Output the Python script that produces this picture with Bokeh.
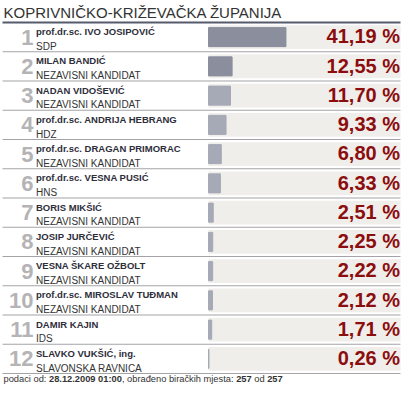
from bokeh.plotting import figure
from bokeh.models import Range1d, ColumnDataSource
from bokeh.core.properties import value
from bokeh.embed import file_html
from bokeh.resources import INLINE

# ---------------- data ----------------
title = "KOPRIVNIČKO-KRIŽEVAČKA ŽUPANIJA"
ranks = [1, 2, 3, 4, 5, 6, 7, 8, 9, 10, 11, 12]
names = [
    "prof.dr.sc. IVO JOSIPOVIĆ",
    "MILAN BANDIĆ",
    "NADAN VIDOŠEVIĆ",
    "prof.dr.sc. ANDRIJA HEBRANG",
    "prof.dr.sc. DRAGAN PRIMORAC",
    "prof.dr.sc. VESNA PUSIĆ",
    "BORIS MIKŠIĆ",
    "JOSIP JURČEVIĆ",
    "VESNA ŠKARE OŽBOLT",
    "prof.dr.sc. MIROSLAV TUĐMAN",
    "DAMIR KAJIN",
    "SLAVKO VUKŠIĆ, ing.",
]
parties = [
    "SDP",
    "NEZAVISNI KANDIDAT",
    "NEZAVISNI KANDIDAT",
    "HDZ",
    "NEZAVISNI KANDIDAT",
    "HNS",
    "NEZAVISNI KANDIDAT",
    "NEZAVISNI KANDIDAT",
    "NEZAVISNI KANDIDAT",
    "NEZAVISNI KANDIDAT",
    "IDS",
    "SLAVONSKA RAVNICA",
]
percents = [41.19, 12.55, 11.70, 9.33, 6.80, 6.33, 2.51, 2.25, 2.22, 2.12, 1.71, 0.26]
footer_parts = [
    ("podaci od: ", False),
    ("28.12.2009 01:00", True),
    (", obrađeno biračkih mjesta: ", False),
    ("257", True),
    (" od ", False),
    ("257", True),
]

# ---------------- layout ----------------
W, H = 402, 387
PX = 1.88            # pixels per percent unit
BAR0 = 208           # screen x of zero
ROW = 29.25          # pixels per row
TOP = 22             # screen y of header line

def sx(px):          # screen x -> data x
    return (px - BAR0) / PX

def sy(py):          # screen y -> data y (rows)
    return (py - TOP) / ROW + 0.5

FONT = "Liberation Sans"

p = figure(width=W, height=H, output_backend="svg", toolbar_location=None,
           x_range=Range1d(sx(0), sx(W)),
           y_range=Range1d(sy(H), sy(0)),
           min_border=0, outline_line_color=None)
p.xaxis.visible = False
p.yaxis.visible = False
p.grid.visible = False
p.background_fill_color = "white"
p.border_fill_color = "white"

bar_colors = ["#8a8e9d" if i < 2 else "#a6a9b6" for i in range(len(ranks))]
src = ColumnDataSource(dict(
    rank=ranks,
    rank_txt=[str(r) for r in ranks],
    name=names,
    party=parties,
    pct=percents,
    pct_txt=[f"{v:.2f}".replace(".", ",") + " %" for v in percents],
    color=bar_colors,
    bg_right=[sx(400)] * len(ranks),
))

# row backgrounds
p.hbar(y="rank", left=0, right="bg_right", height=0.81, source=src,
       fill_color="#f0eeeb", line_color=None)
# bars
p.hbar(y="rank", left=0, right="pct", height=0.65, source=src,
       fill_color="color", line_color="color", line_width=1)

# separators
sep_y = [r + 0.5 for r in ranks]
p.segment(x0=sx(2), x1=sx(400), y0=sep_y, y1=sep_y, line_color="#a4a4a8", line_width=1.2)
p.segment(x0=[sx(2)], x1=[sx(400)], y0=[0.5], y1=[0.5], line_color="#555a6c", line_width=2)

# rank digits
p.text(x=sx(33), y="rank", text="rank_txt", source=src, y_offset=0,
       text_align="right", text_baseline="alphabetic",
       text_font=value(FONT), text_font_style="bold", text_font_size="22px",
       text_color="#b4b4b6")
# names
p.text(x=sx(35.5), y="rank", text="name", source=src, y_offset=-5.5,
       text_align="left", text_baseline="alphabetic",
       text_font=value(FONT), text_font_style="bold", text_font_size="9.5px",
       text_color="#2e2e3a")
# parties
p.text(x=sx(35.5), y="rank", text="party", source=src, y_offset=9.2,
       text_align="left", text_baseline="alphabetic",
       text_font=value(FONT), text_font_style="normal", text_font_size="10px",
       text_color="#333333")
# percents
p.text(x=sx(399.5), y="rank", text="pct_txt", source=src, y_offset=-0.7,
       text_align="right", text_baseline="alphabetic",
       text_font=value(FONT), text_font_style="bold", text_font_size="20px",
       text_color="#8b0d0d")

# title
p.text(x=[sx(3)], y=[sy(11.5)], text=[title], text_align="left", text_baseline="alphabetic",
       text_font=value(FONT), text_font_size="15px", text_color="#333333")

# footer (mixed bold / regular); spaces are turned into offsets
REG = {" ": 278, ",": 278, ".": 278, ":": 278, "a": 556, "b": 556, "c": 500, "d": 556,
       "e": 556, "đ": 556, "i": 222, "j": 222, "k": 500, "m": 833, "n": 556, "o": 556,
       "p": 556, "r": 333, "s": 500, "t": 278, "h": 556, "č": 500}
BOLD = {" ": 278, ".": 278, ":": 333}
fs = 9.3
xpos = 3.0
for txt, bold in footer_parts:
    table = BOLD if bold else REG
    lead = len(txt) - len(txt.lstrip(" "))
    core = txt.strip(" ")
    x0 = xpos + lead * table[" "] / 1000 * fs
    p.text(x=[sx(x0)], y=[sy(378.5)], text=[core], text_align="left", text_baseline="alphabetic",
           text_font=value(FONT), text_font_style="bold" if bold else "normal",
           text_font_size=f"{fs}px", text_color="#333333")
    xpos += sum(table.get(c, 556) for c in txt) / 1000 * fs

open("out.html", "w").write(file_html(p, INLINE))
